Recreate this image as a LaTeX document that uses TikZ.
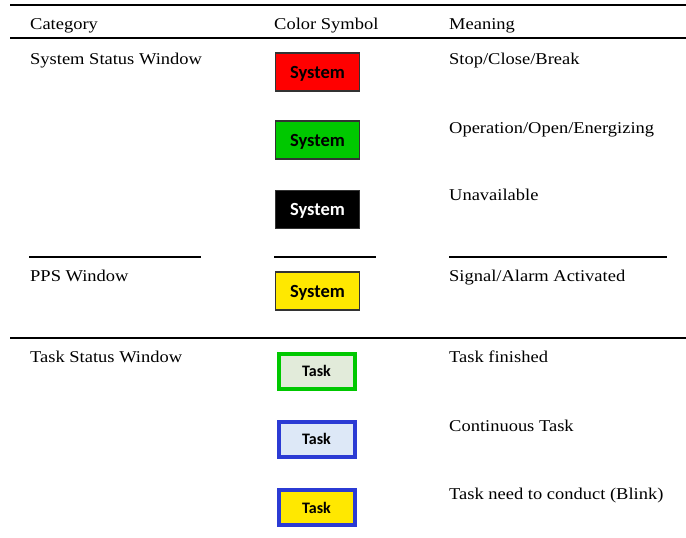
\documentclass[tikz,border=0pt]{standalone}
\usepackage{fontspec}
\setmainfont[FakeStretch=1.12]{Liberation Serif}
\newfontfamily\boxfont{Carlito}
\definecolor{sysred}{HTML}{FF0000}
\definecolor{sysgreen}{HTML}{00C800}
\definecolor{sysyellow}{HTML}{FFE800}
\definecolor{taskgreenfill}{HTML}{E2EBDA}
\definecolor{taskbluefill}{HTML}{DDE8F7}
\definecolor{taskblue}{HTML}{2B3BD4}
\definecolor{boxedge}{HTML}{333333}
\begin{document}
\begin{tikzpicture}[x=1pt,y=-1pt,
  rule/.style={line width=2pt},
  lbl/.style={anchor=base west,inner sep=0pt,font=\fontsize{16.5}{18}\selectfont},
  sysbox/.style={draw=boxedge,line width=1.2pt,minimum width=84pt,minimum height=38pt,inner sep=0pt,text depth=0pt,font=\boxfont\fontsize{18.5}{20}\selectfont\bfseries},
  taskbox/.style={line width=4pt,minimum width=76pt,minimum height=35pt,inner sep=0pt,text depth=0pt,font=\boxfont\fontsize{16}{17}\selectfont\bfseries}]
\useasboundingbox (0,0) rectangle (686,538);
% rules
\coordinate (r1a) at (10,5); \coordinate (r1b) at (686,5);
\coordinate (r2a) at (10,38); \coordinate (r2b) at (686,38);
\coordinate (r3a) at (10,338); \coordinate (r3b) at (686,338);
\coordinate (s1a) at (29,257); \coordinate (s1b) at (201,257);
\coordinate (s2a) at (274,257); \coordinate (s2b) at (376,257);
\coordinate (s3a) at (449,257); \coordinate (s3b) at (667,257);
\draw[rule] (r1a) -- (r1b);
\draw[rule] (r2a) -- (r2b);
\draw[rule] (r3a) -- (r3b);
\draw[rule] (s1a) -- (s1b);
\draw[rule] (s2a) -- (s2b);
\draw[rule] (s3a) -- (s3b);
% header
\node[lbl] (hcat) at (30,29) {Category};
\node[lbl] (hsym) at (274,29) {Color Symbol};
\node[lbl] (hmean) at (449,29) {Meaning};
% categories
\node[lbl] (c1) at (30,64) {System Status Window};
\node[lbl] (c2) at (30,281) {PPS Window};
\node[lbl] (c3) at (30,362) {Task Status Window};
% meanings
\node[lbl] (m1) at (449,64) {Stop/Close/Break};
\node[lbl] (m2) at (449,133) {Operation/Open/Energizing};
\node[lbl] (m3) at (449,200) {Unavailable};
\node[lbl] (m4) at (449,281) {Signal/Alarm Activated};
\node[lbl] (m5) at (449,362) {Task finished};
\node[lbl] (m6) at (449,431) {Continuous Task};
\node[lbl] (m7) at (449,499) {Task need to conduct (Blink)};
% symbols
\node[sysbox,fill=sysred] (b1) at (317.5,72) {System};
\node[sysbox,fill=sysgreen] (b2) at (317.5,140) {System};
\node[sysbox,fill=black,text=white] (b3) at (317.5,209.5) {System};
\node[sysbox,fill=sysyellow] (b4) at (317.5,291) {System};
\node[taskbox,draw=sysgreen,fill=taskgreenfill] (t1) at (316.5,371) {Task};
\node[taskbox,draw=taskblue,fill=taskbluefill] (t2) at (316.5,439) {Task};
\node[taskbox,draw=taskblue,fill=sysyellow] (t3) at (316.5,507.5) {Task};
\end{tikzpicture}
\end{document}
